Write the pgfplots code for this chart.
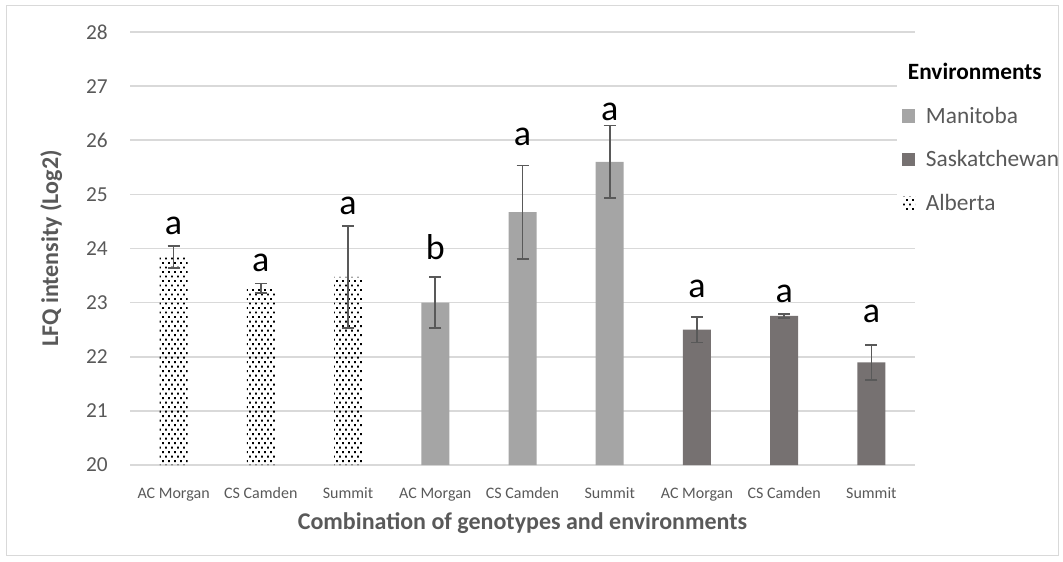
\documentclass[border=0pt]{standalone}
\usepackage{fontspec}
\setmainfont{Carlito}
\usepackage{pgfplots}
\pgfplotsset{compat=1.18}
\usetikzlibrary{patterns}

\definecolor{manitoba}{HTML}{A5A5A5}
\definecolor{sask}{HTML}{767171}
\definecolor{gridgray}{HTML}{D9D9D9}
\definecolor{txtgray}{HTML}{595959}
\definecolor{errgray}{HTML}{595959}

% staggered fine dots used for the Alberta bars
\pgfdeclarepatternformonly{finedots}{\pgfqpoint{-0.5pt}{-0.5pt}}{\pgfqpoint{5pt}{7.25pt}}{\pgfqpoint{4.5pt}{6.75pt}}{%
  \pgfpathrectangle{\pgfqpoint{0pt}{0pt}}{\pgfqpoint{1.35pt}{1.35pt}}%
  \pgfpathrectangle{\pgfqpoint{2.25pt}{3.375pt}}{\pgfqpoint{1.35pt}{1.35pt}}%
  \pgfusepath{fill}}

\begin{document}
\begin{tikzpicture}
% page frame: 1063 x 561 px at 0.75pt per px
\useasboundingbox (0pt,0pt) rectangle (797.25pt,420.75pt);

\begin{axis}[
  at={(97.5pt,72pt)}, anchor=south west,
  scale only axis, width=588.75pt, height=324.75pt,
  xmin=-0.5, xmax=8.5, ymin=20, ymax=28,
  ytick={20,21,...,28},
  xtick={0,...,8},
  xticklabels={AC Morgan,CS Camden,Summit,AC Morgan,CS Camden,Summit,AC Morgan,CS Camden,Summit},
  /pgf/number format/assume math mode=true,
  axis line style={draw=none},
  tick style={draw=none},
  ymajorgrids, grid style={gridgray, line width=1.2pt},
  yticklabel style={font=\fontsize{16}{19}\selectfont, text=txtgray, inner sep=0pt, xshift=-16.5pt},
  xticklabel style={font=\fontsize{12}{14}\selectfont, text=txtgray, inner sep=0pt, anchor=base, yshift=-21pt},
  xlabel={\textbf{Combination of genotypes and environments}},
  xlabel style={font=\fontsize{18}{21}\selectfont, text=txtgray, at={(axis description cs:0.5,-0.150)}, anchor=base},
  ylabel={\textbf{LFQ intensity (Log2)}},
  ylabel style={font=\fontsize{18}{21}\selectfont, text=txtgray, at={(axis description cs:-0.0917,0.5)}, anchor=base},
  ybar, bar width=21pt, bar shift=0pt,
  error bars/y dir=both, error bars/y explicit,
  error bars/error bar style={draw=errgray, line width=1.2pt},
  error bars/error mark options={rotate=90, draw=errgray, line width=1.2pt, mark size=4.5pt},
  legend style={at={(axis description cs:0.977,0.947)}, anchor=north west,
    draw=none, fill=white, font=\fontsize{17.5}{20}\selectfont, text=txtgray,
    row sep=15pt, inner xsep=3.75pt, inner ysep=4pt,
    /tikz/every odd column/.append style={column sep=6pt}},
  legend cell align=left,
  legend image code/.code={\fill[#1,draw=none] (0pt,-4.9pt) rectangle (9.75pt,4.9pt);},
]
% Alberta
\addplot[draw=none, pattern=finedots, pattern color=black, forget plot]
  coordinates {(0,23.845) +- (0,0.205) (1,23.265) +- (0,0.085) (2,23.475) +- (0,0.945)};
% Manitoba
\addplot[draw=none, fill=manitoba, forget plot]
  coordinates {(3,23.00) +- (0,0.47) (4,24.67) +- (0,0.86) (5,25.60) +- (0,0.67)};
% Saskatchewan
\addplot[draw=none, fill=sask, forget plot]
  coordinates {(6,22.50) +- (0,0.24) (7,22.755) +- (0,0.035) (8,21.895) +- (0,0.325)};

% significance letters
\foreach \xx/\yy/\lt in {0/24.25/a,1/23.57/a,2/24.62/a,3/23.79/b,4/25.91/a,5/26.37/a,6/23.10/a,7/23.01/a,8/22.64/a}{
  \edef\temp{\noexpand\node[anchor=base, inner sep=0pt, font=\noexpand\fontsize{27}{30}\noexpand\selectfont] at (axis cs:\xx,\yy) {\lt};}
  \temp
}

\addlegendimage{empty legend}
\addlegendentry{\hspace{-13.5pt}\textcolor{black}{\textbf{Environments}}}
\addlegendimage{fill=manitoba}
\addlegendentry{Manitoba}
\addlegendimage{fill=sask}
\addlegendentry{Saskatchewan}
\addlegendimage{pattern=finedots, pattern color=black}
\addlegendentry{Alberta}
\end{axis}

% chart frame
\draw[gridgray, line width=1pt] (4.875pt,4.125pt) rectangle (793.875pt,416.625pt);
\end{tikzpicture}
\end{document}
